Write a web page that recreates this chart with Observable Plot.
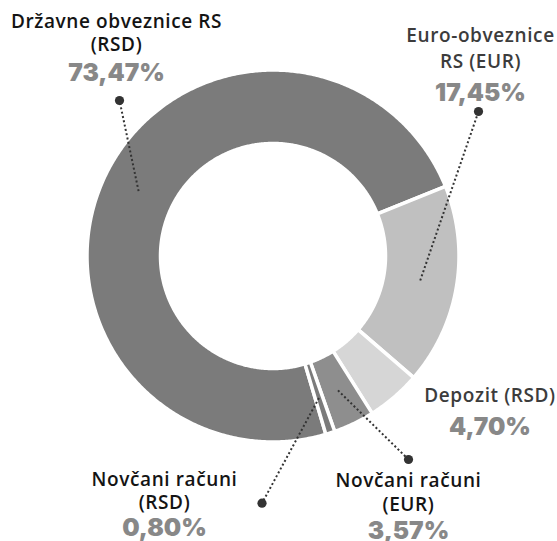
<!DOCTYPE html>
<html>
<head>
<meta charset="utf-8">
<script src="https://cdn.jsdelivr.net/npm/d3@7"></script>
<script src="https://cdn.jsdelivr.net/npm/@observablehq/plot@0.6"></script>
<style>
  html, body { margin: 0; padding: 0; background: #fff; }
  g[font-family="Open Sans"] text { letter-spacing: 0.6px; }
</style>
</head>
<body>
<div id="chart"></div>
<script>
// ---- data ----
const categories = [
  "Državne obveznice RS (RSD)",
  "Euro-obveznice RS (EUR)",
  "Depozit (RSD)",
  "Novčani računi (EUR)",
  "Novčani računi (RSD)"
];
const values = [73.47, 17.45, 4.70, 3.57, 0.80];
const labelLines = [
  ["Državne obveznice RS", "(RSD)"],
  ["Euro-obveznice", "RS (EUR)"],
  ["Depozit (RSD)"],
  ["Novčani računi", "(EUR)"],
  ["Novčani računi", "(RSD)"]
];

// ---- styles / layout (kept separate from data) ----
const palette = ["#7b7b7b", "#c0c0c0", "#d6d6d6", "#8e8e8e", "#7b7b7b"];
const labelColors = ["#141414", "#3c3c3c", "#3c3c3c", "#141414", "#141414"];
const W = 557, H = 541;
const CX = 272.5, CY = 255.5;     // donut centre (px)
const R_OUT = 186, R_IN = 112.5;  // radii (px), before white border
const START_DEG = 163.5;          // clockwise from north, first slice
// label anchors in px: centre x, baselines of text lines, number baseline, leader dot (or null)
const labelLayout = [
  {cx: 116,   lines: [27.3, 50.5],  num: 80,    dot: [119, 100]},
  {cx: 480,   lines: [41.7, 67.3],  num: 100.5, dot: [478, 111]},
  {cx: 489.5, lines: [401.7],       num: 434,   dot: null},
  {cx: 408,   lines: [486.7, 510],  num: 538,   dot: [408, 459]},
  {cx: 164,   lines: [485, 508.3],  num: 535,   dot: [261.5, 502.7]}
];

// ---- derived geometry (data space: px units, origin at centre, y up) ----
const total = d3.sum(values);
const rad = (deg) => deg * Math.PI / 180;
const polar = (r, deg) => ({x: r * Math.sin(rad(deg)), y: r * Math.cos(rad(deg))});
const px2x = (px) => px - CX;
const px2y = (py) => CY - py;

const slicePoints = [];
const mids = [];
let a = START_DEG;
categories.forEach((cat, i) => {
  const a0 = a, a1 = a + values[i] / total * 360;
  const n = Math.max(2, Math.ceil((a1 - a0) / 0.5));
  for (let k = 0; k <= n; ++k) slicePoints.push({cat, ...polar(R_OUT, a0 + (a1 - a0) * k / n)});
  for (let k = n; k >= 0; --k) slicePoints.push({cat, ...polar(R_IN, a0 + (a1 - a0) * k / n)});
  mids.push((a0 + a1) / 2);
  a = a1;
});

const fmt = (v) => v.toFixed(2).replace(".", ",") + "%";

const textRows = [];
const numRows = [];
const leaders = [];
const dots = [];
categories.forEach((cat, i) => {
  const L = labelLayout[i];
  labelLines[i].forEach((t, j) => textRows.push({text: t, x: px2x(L.cx), y: px2y(L.lines[j]), color: labelColors[i]}));
  numRows.push({text: fmt(values[i]), x: px2x(L.cx), y: px2y(L.num)});
  if (L.dot) {
    const m = polar((R_OUT + R_IN) / 2, mids[i]);
    leaders.push({x1: m.x, y1: m.y, x2: px2x(L.dot[0]), y2: px2y(L.dot[1])});
    dots.push({x: px2x(L.dot[0]), y: px2y(L.dot[1])});
  }
});

const chart = Plot.plot({
  width: W,
  height: H,
  margin: 0,
  x: {domain: [-CX, W - CX], range: [0, W], axis: null},
  y: {domain: [CY - H, CY], range: [H, 0], axis: null},
  color: {domain: categories, range: palette},
  style: {background: "#fff"},
  marks: [
    Plot.line(slicePoints, {x: "x", y: "y", z: "cat", fill: "cat", stroke: "#fff", strokeWidth: 3.5, curve: "linear-closed"}),
    Plot.link(leaders, {x1: "x1", y1: "y1", x2: "x2", y2: "y2", stroke: "#333", strokeWidth: 2, strokeDasharray: "2,2.4"}),
    Plot.dot(dots, {x: "x", y: "y", r: 4.6, fill: "#333", stroke: null}),
    Plot.text(textRows, {x: "x", y: "y", text: "text", fill: (d) => d.color, textAnchor: "middle", lineAnchor: "bottom",
      fontSize: 19, fontWeight: 600, fontFamily: "Open Sans"}),
    Plot.text(numRows, {x: "x", y: "y", text: "text", fill: "#888", textAnchor: "middle", lineAnchor: "bottom",
      fontSize: 24.5, fontWeight: 900, fontFamily: "Inter"})
  ]
});
document.getElementById("chart").appendChild(chart);
</script>
</body>
</html>
